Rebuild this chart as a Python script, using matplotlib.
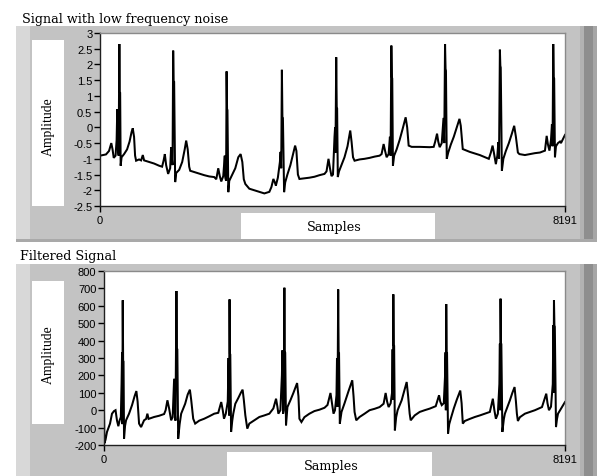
import matplotlib
matplotlib.use("Agg")
import matplotlib.pyplot as plt
from matplotlib.patches import Rectangle
from matplotlib.ticker import FixedLocator, FixedFormatter

# ---------------- data ----------------
noisy_samples = [
    0, 53, 106, 159, 199, 221, 242, 274, 293, 304, 314, 328, 341, 348, 355, 364, 380,
    424, 477, 521, 556, 577, 600, 618, 636, 688, 724, 754, 777, 865, 953, 1042, 1094,
    1121, 1142, 1165, 1200, 1236, 1253, 1267, 1278, 1289, 1297, 1306, 1324, 1342, 1395,
    1448, 1492, 1518, 1545, 1571, 1589, 1659, 1748, 1836, 1924, 2012,
    2048, 2083, 2110, 2136, 2171, 2198, 2207, 2221, 2230, 2238, 2245, 2260, 2277, 2330,
    2383, 2436, 2477, 2507, 2533, 2560, 2630, 2719, 2807, 2895, 2983, 3019,
    3054, 3080, 3098, 3133, 3169, 3181, 3192, 3204, 3213, 3222, 3243, 3262, 3301, 3354,
    3407, 3437, 3460, 3486, 3513, 3601, 3689, 3778, 3866, 3954, 3990,
    4025, 4051, 4078, 4104, 4131, 4141, 4148, 4161, 4170, 4177, 4189, 4210, 4254, 4307,
    4360, 4408, 4431, 4457, 4484, 4572, 4660, 4749, 4837, 4925,
    4960, 4996, 5022, 5049, 5084, 5107, 5119, 5132, 5141, 5148, 5160, 5181, 5225, 5278,
    5331, 5384, 5411, 5437, 5490, 5631, 5808, 5878,
    5905, 5937, 5958, 5984, 6020, 6051, 6064, 6078, 6087, 6094, 6108, 6134, 6179, 6232,
    6284, 6332, 6355, 6390, 6514, 6690, 6849,
    6885, 6915, 6938, 6973, 6999, 7017, 7029, 7044, 7052, 7059, 7079, 7105, 7149, 7202,
    7255, 7296, 7326, 7361, 7388, 7485, 7573, 7661, 7750, 7838,
    7868, 7891, 7917, 7944, 7961, 7972, 7984, 7993, 8000, 8014, 8032, 8067, 8103, 8120, 8191,
]
noisy_values = [
    -0.90, -0.88, -0.86, -0.75, -0.50, -0.70, -0.97, -0.90, -0.40, 0.58, -0.60, -0.90, 2.65, 1.12, 1.10, -1.22, -0.95,
    -0.85, -0.70, -0.45, -0.15, -0.03, -0.30, -0.90, -1.06, -1.02, -1.05, -0.88, -1.05, -1.10, -1.15, -1.22, -1.25,
    -1.05, -0.85, -1.20, -1.48, -1.30, -0.63, -1.00, -1.20, 2.44, 1.48, 1.45, -1.74, -1.45, -1.35,
    -1.10, -0.70, -0.42, -0.70, -1.25, -1.38, -1.42, -1.47, -1.52, -1.56, -1.58,
    -1.65, -1.30, -1.55, -1.72, -1.55, -0.90, -1.60, -1.70, 1.78, 0.58, 0.55, -2.06, -1.70, -1.50,
    -1.30, -0.95, -0.85, -1.10, -1.65, -1.80, -1.95, -2.00, -2.05, -2.10, -2.05, -1.90,
    -1.64, -1.75, -1.85, -1.60, -1.10, -0.78, -1.30, 1.83, 0.33, 0.30, -2.06, -1.75, -1.50, -1.20,
    -0.80, -0.58, -0.75, -1.50, -1.64, -1.62, -1.60, -1.57, -1.52, -1.48, -1.40,
    -1.00, -1.30, -1.55, -1.50, -0.30, 0.00, -0.80, 2.23, 0.65, 0.60, -1.58, -1.40, -1.20, -0.95,
    -0.60, -0.10, -0.45, -0.95, -1.06, -1.02, -1.00, -0.97, -0.93, -0.90,
    -0.85, -0.53, -0.75, -0.95, -0.85, -0.30, -0.90, 2.60, 1.60, 1.55, -1.22, -0.90, -0.70, -0.40,
    -0.05, 0.32, 0.00, -0.58, -0.62, -0.62, -0.63, -0.62,
    -0.45, -0.20, -0.45, -0.63, -0.50, 0.30, -0.50, 2.65, 1.86, 1.80, -1.00, -0.80, -0.55, -0.30,
    0.00, 0.27, 0.05, -0.69, -0.78, -0.88, -1.00,
    -0.80, -0.58, -0.80, -1.17, -0.90, -0.47, -1.00, 2.47, 1.96, 1.90, -1.38, -1.00, -0.75, -0.50,
    -0.20, 0.05, -0.30, -0.80, -0.85, -0.88, -0.85, -0.82, -0.80, -0.74,
    -0.27, -0.55, -0.74, -0.40, 0.10, -0.60, 2.65, 1.60, 1.55, -0.95, -0.60, -0.50, -0.45, -0.50, -0.24,
]

filtered_samples = [
    0, 7, 27, 53, 107, 142, 178, 205, 231, 255, 276, 299, 312, 321, 326, 333, 340, 347, 356,
    374, 392, 445, 499, 543, 575, 597, 623, 659, 712, 748, 771, 792, 890, 979, 1068,
    1095, 1127, 1157, 1193, 1220, 1246, 1259, 1270, 1287, 1296, 1303, 1318, 1344, 1371,
    1442, 1487, 1526, 1549, 1585, 1620, 1692, 1781, 1870, 1959, 2030,
    2083, 2110, 2132, 2164, 2199, 2213, 2222, 2231, 2238, 2244, 2258, 2279, 2297, 2333,
    2386, 2431, 2463, 2484, 2511, 2546, 2582, 2671, 2760, 2849, 2938, 3009,
    3057, 3081, 3098, 3134, 3161, 3170, 3182, 3193, 3205, 3212, 3220, 3234, 3259, 3312,
    3366, 3431, 3455, 3472, 3508, 3561, 3650, 3739, 3829, 3918, 3971,
    4024, 4051, 4078, 4104, 4131, 4140, 4149, 4161, 4169, 4176, 4190, 4220, 4274, 4345,
    4411, 4434, 4452, 4482, 4541, 4630, 4719, 4808, 4897, 4968,
    5004, 5030, 5057, 5093, 5119, 5128, 5134, 5141, 5148, 5155, 5168, 5191, 5217, 5289,
    5342, 5378, 5404, 5431, 5449, 5520, 5609, 5698, 5787, 5894,
    5953, 5974, 6001, 6037, 6060, 6069, 6074, 6081, 6088, 6095, 6113, 6134, 6161, 6215,
    6268, 6330, 6354, 6375, 6411, 6500, 6589, 6678, 6767, 6856,
    6909, 6936, 6963, 6998, 7025, 7034, 7039, 7046, 7053, 7060, 7078, 7105, 7123, 7212,
    7256, 7295, 7319, 7336, 7354, 7390, 7479, 7568, 7657, 7782,
    7858, 7880, 7906, 7942, 7974, 7983, 7988, 7995, 8003, 8010, 8031, 8049, 8067, 8120, 8191,
]
filtered_values = [
    0, -190, -170, -125, -77, -20, -5, 0, -60, -92, -60, -40, 150, 334, -80, 632, 284, 280, -164,
    -90, -58, -20, 30, 80, 110, 50, -77, -97, -58, -50, -20, -50, -39, -32, -22,
    0, 57, 10, -58, -40, 181, -20, -60, 685, 353, 350, -164, -80, -20,
    37, 90, 118, 60, -49, -77, -60, -49, -35, -20, -15,
    47, 0, -49, -20, 50, 300, -30, 637, 325, 320, -125, -60, -20, 37,
    70, 100, 118, 60, -29, -106, -77, -58, -39, -30, -20, 10,
    66, 20, -20, 0, 200, 344, -20, 0, 704, 340, 330, -87, 18, 57,
    100, 156, 80, -49, -68, -40, -20, -5, 3, 14, 30,
    99, 40, -20, 0, 87, 300, 20, 694, 334, 330, -77, -10, 40, 110,
    172, 80, -10, -58, -39, -20, 0, 8, 18, 37,
    99, 50, 18, 40, 103, 350, 60, 666, 373, 370, -116, -40, 0, 57,
    120, 162, 80, -20, -58, -30, -10, 0, 9, 23,
    86, 50, 29, 40, 200, 333, 0, 610, 333, 330, -134, -80, -49, 10,
    60, 113, 40, -77, -62, -50, -39, -30, -20, -10,
    66, 0, -49, -20, 150, 382, 0, 641, 382, 380, -125, -50, -20, 57,
    100, 133, 50, -20, -62, -40, -20, -10, 0, 18,
    95, 40, 0, 20, 150, 488, 100, 632, 488, 480, -97, -50, -20, 9, 47,
]

top_title = "Signal with low frequency noise"
bottom_title = "Filtered Signal"
y_label = "Amplitude"
x_label = "Samples"
x_ticks = [0, 8191]
x_tick_labels = ["0", "8191"]
top_yticks = [-2.5, -2, -1.5, -1, -0.5, 0, 0.5, 1, 1.5, 2, 2.5, 3]
top_ytick_labels = ["-2.5", "-2", "-1.5", "-1", "-0.5", "0", "0.5", "1", "1.5", "2", "2.5", "3"]
bot_yticks = [-200, -100, 0, 100, 200, 300, 400, 500, 600, 700, 800]
bot_ytick_labels = ["-200", "-100", "0", "100", "200", "300", "400", "500", "600", "700", "800"]

# ---------------- layout ----------------
W, H = 597, 477
fig = plt.figure(figsize=(W / 100, H / 100), dpi=100)
fig.patch.set_facecolor("white")


def frect(x0, y0, x1, y1, color):
    fig.patches.append(Rectangle((x0 / W, 1 - y1 / H), (x1 - x0) / W, (y1 - y0) / H,
                                 transform=fig.transFigure, facecolor=color,
                                 edgecolor="none", zorder=-5))


PANEL = "#c3c3c3"
LIGHT = "#d8d8d8"


def panel(y0, y1, amp_box, samp_box):
    frect(16, y0, 597, y1, PANEL)
    frect(16, y0, 30, y1, LIGHT)
    frect(580, y0, 584, y1, "#b2b2b2")
    frect(584, y0, 593, y1, "#8e8e8e")
    frect(593, y0, 597, y1, "#a6a6a6")
    frect(*amp_box, "white")
    frect(*samp_box, "white")


panel(27, 241, (32, 41, 64, 207), (241, 214, 435, 241))
frect(16, 240, 597, 243, "#a9a9a9")
panel(265, 477, (32, 282, 64, 425), (227, 453, 432, 477))

fig.text(22 / W, 1 - 23 / H, top_title, family="DejaVu Serif", fontsize=9.2,
         ha="left", va="baseline")
fig.text(20 / W, 1 - 260 / H, bottom_title, family="DejaVu Serif", fontsize=9.2,
         ha="left", va="baseline")
fig.text(48 / W, 1 - 127 / H, y_label, family="Liberation Serif", fontsize=9.8,
         rotation=90, ha="center", va="center")
fig.text(48 / W, 1 - 355 / H, y_label, family="Liberation Serif", fontsize=9.8,
         rotation=90, ha="center", va="center")
fig.text(334 / W, 1 - 228 / H, x_label, family="DejaVu Serif", fontsize=9.2,
         ha="center", va="center")
fig.text(331 / W, 1 - 467 / H, x_label, family="DejaVu Serif", fontsize=9.2,
         ha="center", va="center")


def make_axes(x0, y0, x1, y1, xs, ys, ylim, yticks, ylabels):
    ax = fig.add_axes([x0 / W, 1 - y1 / H, (x1 - x0) / W, (y1 - y0) / H])
    ax.set_facecolor("white")
    ax.plot(xs, ys, color="black", lw=1.45, solid_joinstyle="miter")
    ax.set_xlim(0, 8191)
    ax.set_ylim(*ylim)
    ax.xaxis.set_major_locator(FixedLocator(x_ticks))
    ax.xaxis.set_major_formatter(FixedFormatter(x_tick_labels))
    ax.yaxis.set_major_locator(FixedLocator(yticks))
    ax.yaxis.set_major_formatter(FixedFormatter(ylabels))
    ax.tick_params(axis="both", direction="out", length=4, width=1, pad=1.5,
                   labelsize=8, colors="black")
    ax.tick_params(axis="x", pad=2.5)
    for lab in ax.get_xticklabels() + ax.get_yticklabels():
        lab.set_family("Liberation Sans")
    for s in ("top", "right"):
        ax.spines[s].set_color("#8a8a8a")
        ax.spines[s].set_linewidth(1)
    for s in ("left", "bottom"):
        ax.spines[s].set_color("#202020")
        ax.spines[s].set_linewidth(1)
    return ax


make_axes(100, 34, 565, 207, noisy_samples, noisy_values, (-2.5, 3),
          top_yticks, top_ytick_labels)
make_axes(104, 272, 565, 446, filtered_samples, filtered_values, (-200, 800),
          bot_yticks, bot_ytick_labels)

fig.savefig("out.png", dpi=100, facecolor="white")
